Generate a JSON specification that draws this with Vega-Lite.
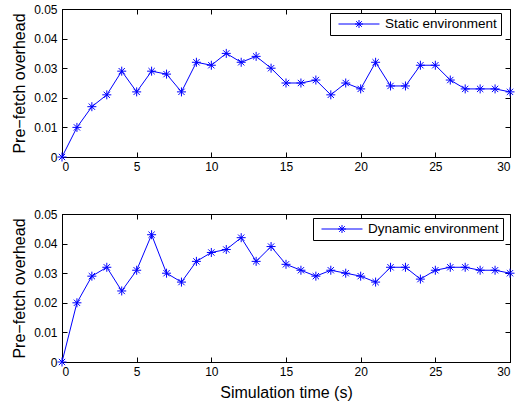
{
  "$schema": "https://vega.github.io/schema/vega-lite/v6.json",
  "padding": {"left": 11, "top": 2, "right": 8, "bottom": 3},
  "background": "white",
  "spacing": 34,
  "config": {
    "view": {"stroke": "black", "strokeWidth": 1},
    "font": "Liberation Sans",
    "axis": {
      "grid": false,
      "domain": true,
      "domainColor": "#000000",
      "domainWidth": 1,
      "ticks": true,
      "tickColor": "#000000",
      "tickSize": -5,
      "labelColor": "black",
      "titleColor": "black",
      "labelFont": "Liberation Sans",
      "titleFont": "Liberation Sans",
      "labelFontSize": 12,
      "titleFontSize": 16,
      "titleFontWeight": "normal",
      "labelPadding": 9,
      "tickWidth": 1
    },
    "axisLeft": {"labelPadding": 10},
    "legend": {
      "orient": "none",
      "title": null,
      "symbolType": "M-0.385,0L5.92,0M2.77,-0.615L2.77,0.615M2.155,0L3.385,0M2.335,-0.435L3.205,0.435M2.335,0.435L3.205,-0.435",
      "symbolSize": 169,
      "symbolStrokeWidth": 1,
      "symbolFillColor": "transparent",
      "symbolStrokeColor": "#0000ff",
      "strokeColor": "black",
      "fillColor": "white",
      "padding": 4,
      "labelFontSize": 13.5,
      "labelFont": "Liberation Sans",
      "labelColor": "black",
      "labelOffset": 37
    }
  },
  "datasets": {
    "static": [
      {"t": 0, "v": 0}, {"t": 1, "v": 0.010}, {"t": 2, "v": 0.017}, {"t": 3, "v": 0.021},
      {"t": 4, "v": 0.029}, {"t": 5, "v": 0.022}, {"t": 6, "v": 0.029}, {"t": 7, "v": 0.028},
      {"t": 8, "v": 0.022}, {"t": 9, "v": 0.032}, {"t": 10, "v": 0.031}, {"t": 11, "v": 0.035},
      {"t": 12, "v": 0.032}, {"t": 13, "v": 0.034}, {"t": 14, "v": 0.030}, {"t": 15, "v": 0.025},
      {"t": 16, "v": 0.025}, {"t": 17, "v": 0.026}, {"t": 18, "v": 0.021}, {"t": 19, "v": 0.025},
      {"t": 20, "v": 0.023}, {"t": 21, "v": 0.032}, {"t": 22, "v": 0.024}, {"t": 23, "v": 0.024},
      {"t": 24, "v": 0.031}, {"t": 25, "v": 0.031}, {"t": 26, "v": 0.026}, {"t": 27, "v": 0.023},
      {"t": 28, "v": 0.023}, {"t": 29, "v": 0.023}, {"t": 30, "v": 0.022}
    ],
    "dynamic": [
      {"t": 0, "v": 0}, {"t": 1, "v": 0.020}, {"t": 2, "v": 0.029}, {"t": 3, "v": 0.032},
      {"t": 4, "v": 0.024}, {"t": 5, "v": 0.031}, {"t": 6, "v": 0.043}, {"t": 7, "v": 0.030},
      {"t": 8, "v": 0.027}, {"t": 9, "v": 0.034}, {"t": 10, "v": 0.037}, {"t": 11, "v": 0.038},
      {"t": 12, "v": 0.042}, {"t": 13, "v": 0.034}, {"t": 14, "v": 0.039}, {"t": 15, "v": 0.033},
      {"t": 16, "v": 0.031}, {"t": 17, "v": 0.029}, {"t": 18, "v": 0.031}, {"t": 19, "v": 0.030},
      {"t": 20, "v": 0.029}, {"t": 21, "v": 0.027}, {"t": 22, "v": 0.032}, {"t": 23, "v": 0.032},
      {"t": 24, "v": 0.028}, {"t": 25, "v": 0.031}, {"t": 26, "v": 0.032}, {"t": 27, "v": 0.032},
      {"t": 28, "v": 0.031}, {"t": 29, "v": 0.031}, {"t": 30, "v": 0.030}
    ]
  },
  "resolve": {"scale": {"color": "independent"}, "legend": {"color": "independent"}},
  "vconcat": [
    {
      "width": 448,
      "height": 148,
      "data": {"name": "static"},
      "layer": [
        {
          "mark": {"type": "line", "strokeWidth": 1, "point": {"shape": "M-1,0L1,0M0,-1L0,1M-0.7,-0.7L0.7,0.7M-0.7,0.7L0.7,-0.7", "size": 81, "filled": false, "strokeWidth": 1}},
          "encoding": {
            "x": {"field": "t", "type": "quantitative", "scale": {"domain": [0, 30], "nice": false}, "axis": {"values": [0, 5, 10, 15, 20, 25, 30], "title": null}},
            "y": {"field": "v", "type": "quantitative", "scale": {"domain": [0, 0.05], "nice": false}, "axis": {"values": [0, 0.01, 0.02, 0.03, 0.04, 0.05], "format": "~g", "title": "Pre−fetch overhead", "titlePadding": 6}},
            "color": {"datum": "Static environment", "scale": {"range": ["#0000ff"]},
              "legend": {"legendX": 268, "legendY": 4}}
          }
        },
        {
          "mark": {"type": "line", "strokeOpacity": 0},
          "encoding": {
            "x": {"field": "t", "type": "quantitative", "scale": {"domain": [0, 30], "nice": false}, "axis": {"orient": "top", "values": [0, 5, 10, 15, 20, 25, 30], "labels": false, "title": null}},
            "y": {"field": "v", "type": "quantitative", "scale": {"domain": [0, 0.05], "nice": false}, "axis": {"orient": "right", "values": [0, 0.01, 0.02, 0.03, 0.04, 0.05], "labels": false, "title": null}}
          }
        }
      ],
      "resolve": {"axis": {"x": "independent", "y": "independent"}}
    },
    {
      "width": 448,
      "height": 148,
      "data": {"name": "dynamic"},
      "layer": [
        {
          "mark": {"type": "line", "strokeWidth": 1, "point": {"shape": "M-1,0L1,0M0,-1L0,1M-0.7,-0.7L0.7,0.7M-0.7,0.7L0.7,-0.7", "size": 81, "filled": false, "strokeWidth": 1}},
          "encoding": {
            "x": {"field": "t", "type": "quantitative", "scale": {"domain": [0, 30], "nice": false}, "axis": {"values": [0, 5, 10, 15, 20, 25, 30], "title": "Simulation time (s)", "titlePadding": 7}},
            "y": {"field": "v", "type": "quantitative", "scale": {"domain": [0, 0.05], "nice": false}, "axis": {"values": [0, 0.01, 0.02, 0.03, 0.04, 0.05], "format": "~g", "title": "Pre−fetch overhead", "titlePadding": 6}},
            "color": {"datum": "Dynamic environment", "scale": {"range": ["#0000ff"]},
              "legend": {"legendX": 251, "legendY": 4}}
          }
        },
        {
          "mark": {"type": "line", "strokeOpacity": 0},
          "encoding": {
            "x": {"field": "t", "type": "quantitative", "scale": {"domain": [0, 30], "nice": false}, "axis": {"orient": "top", "values": [0, 5, 10, 15, 20, 25, 30], "labels": false, "title": null}},
            "y": {"field": "v", "type": "quantitative", "scale": {"domain": [0, 0.05], "nice": false}, "axis": {"orient": "right", "values": [0, 0.01, 0.02, 0.03, 0.04, 0.05], "labels": false, "title": null}}
          }
        }
      ],
      "resolve": {"axis": {"x": "independent", "y": "independent"}}
    }
  ]
}
